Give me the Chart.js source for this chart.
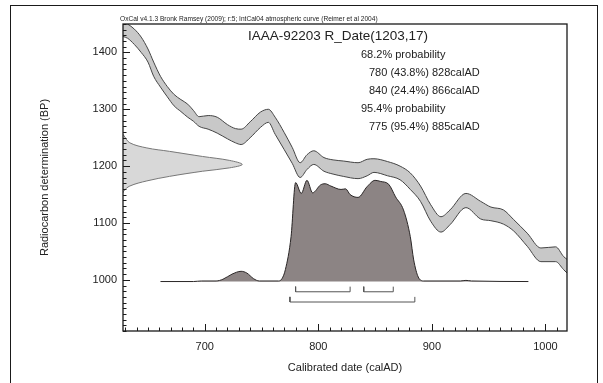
<!DOCTYPE html>
<html>
<head>
<meta charset="utf-8">
<script src="https://cdn.jsdelivr.net/npm/chart.js@4.4.0/dist/chart.umd.min.js"></script>
<style>
  html, body { margin: 0; padding: 0; background: #fff; }
  #wrap { position: relative; width: 603px; height: 383px; }
</style>
</head>
<body>
<div id="wrap"><canvas id="myChart"></canvas></div>
<script>
// tick labels
const xTicks = [700, 800, 900, 1000];
const yTicks = [1000, 1100, 1200, 1300, 1400];

// IntCal04 band (calAD vs BP), upper and lower edge
const curveYears = [628, 632, 638, 644, 650, 655, 661, 667, 673, 679, 685, 690, 695, 703, 711, 720, 727, 732, 740, 749, 756, 762, 770, 777, 784, 790, 796, 805, 813, 822, 835, 843, 849, 861, 872, 881, 890, 899, 908, 916, 930, 943, 952, 963, 972, 984, 996, 1009, 1016, 1019];
const curveUpper = [1454, 1450, 1441, 1427, 1406, 1383, 1358, 1340, 1326, 1317, 1309, 1298, 1287, 1289, 1286, 1273, 1266, 1265, 1278, 1295, 1300, 1286, 1259, 1233, 1206, 1220, 1227, 1215, 1211, 1209, 1206, 1212, 1213, 1208, 1200, 1188, 1165, 1132, 1111, 1123, 1152, 1138, 1128, 1123, 1106, 1082, 1056, 1058, 1041, 1036];
const curveLower = [1428, 1425, 1414, 1400, 1383, 1358, 1339, 1322, 1306, 1296, 1286, 1279, 1270, 1265, 1258, 1248, 1241, 1238, 1250, 1268, 1277, 1256, 1229, 1205, 1180, 1194, 1203, 1191, 1186, 1182, 1178, 1183, 1189, 1183, 1176, 1159, 1138, 1103, 1084, 1097, 1127, 1107, 1104, 1098, 1086, 1059, 1032, 1032, 1018, 1012];

// calibrated probability distribution, drawn on the BP axis
const probYears = [661, 690, 697, 710, 716, 724, 732, 737, 743, 748, 765, 768, 771, 776, 780, 785, 790, 795, 802, 806, 811, 820, 824, 828, 835, 843, 850, 855, 862, 868, 875, 881, 884, 888, 893, 925, 930, 935, 985];
const probValues = [997, 997, 998, 998, 1001, 1010, 1015, 1012, 1002, 998, 998, 1002, 1018, 1076, 1171, 1152, 1175, 1153, 1167, 1169, 1165, 1159, 1160, 1150, 1145, 1164, 1175, 1173, 1168, 1146, 1123, 1076, 1035, 1005, 998, 998, 999, 998, 997];
const probBase = 997;

// radiocarbon measurement 1203 +/- 17 BP
const measBP = [1256, 1253, 1241, 1232, 1226, 1217, 1210, 1203, 1197, 1191, 1182, 1174, 1165, 1156, 1153];
const measYears = [628, 629, 634, 649, 669, 698, 722, 733, 722, 698, 669, 649, 634, 628.5, 628];

// calibrated ranges
const ranges68 = [[780, 828], [840, 866]];
const ranges95 = [[775, 885]];

const headerText = "OxCal v4.1.3 Bronk Ramsey (2009); r:5; IntCal04 atmospheric curve (Reimer et al 2004)";
const titleText = "IAAA-92203 R_Date(1203,17)";
const summaryLines = [
  "68.2% probability",
  "780 (43.8%) 828calAD",
  "840 (24.4%) 866calAD",
  "95.4% probability",
  "775 (95.4%) 885calAD"
];

const FONT = '"Liberation Sans", Arial, Helvetica, sans-serif';
const row68 = [988, 979];
const row95 = [970, 961];

const toPoints = (xs, ys) => xs.map((x, i) => ({ x: x, y: ys[i] }));

const bracket = (r, level) => [
  { x: r[0], y: level[0] }, { x: r[0], y: level[1] },
  { x: r[1], y: level[1] }, { x: r[1], y: level[0] }
];

const bracketSets = ranges68.map(r => bracket(r, row68))
  .concat(ranges95.map(r => bracket(r, row95)))
  .map(pts => ({
    data: pts,
    borderColor: "#555",
    borderWidth: 1,
    fill: false,
    pointRadius: 0,
    tension: 0
  }));

const decorations = {
  id: "decorations",
  afterDraw(chart) {
    const { ctx, chartArea: a, scales: { x, y } } = chart;
    ctx.save();
    ctx.strokeStyle = "#1a1a1a";
    ctx.lineWidth = 1;
    // outer frame and plot box
    ctx.strokeRect(10.5, 5.5, 587, 400);
    ctx.lineWidth = 1.3;
    ctx.strokeRect(a.left, a.top, a.right - a.left, a.bottom - a.top);

    // inward ticks
    ctx.lineWidth = 1;
    ctx.beginPath();
    for (let v = 630; v <= x.max; v += 10) {
      const px = Math.round(x.getPixelForValue(v)) + 0.5;
      const len = v % 100 === 0 ? 7 : 3.5;
      ctx.moveTo(px, a.bottom);
      ctx.lineTo(px, a.bottom - len);
    }
    for (let v = 910; v <= y.max; v += 10) {
      const py = Math.round(y.getPixelForValue(v)) + 0.5;
      const len = v % 100 === 0 ? 7 : 3.5;
      ctx.moveTo(a.left, py);
      ctx.lineTo(a.left + len, py);
    }
    ctx.stroke();

    ctx.fillStyle = "#222";
    ctx.textBaseline = "alphabetic";
    ctx.textAlign = "left";
    ctx.font = "6.6px " + FONT;
    ctx.fillText(headerText, 120, 21);

    ctx.textBaseline = "middle";
    ctx.font = "13.5px " + FONT;
    ctx.fillText(titleText, 248, 36);

    ctx.font = "11px " + FONT;
    summaryLines.forEach((t, i) => {
      const indent = t.indexOf("probability") >= 0 ? 361 : 369;
      ctx.fillText(t, indent, 54.5 + i * 18);
    });

    // axis titles
    ctx.textAlign = "center";
    ctx.fillText("Calibrated date (calAD)", (a.left + a.right) / 2, 368);
    ctx.save();
    ctx.translate(45, (a.top + a.bottom) / 2);
    ctx.rotate(-Math.PI / 2);
    ctx.fillText("Radiocarbon determination (BP)", 0, 0);
    ctx.restore();
    ctx.restore();
  }
};

new Chart(document.getElementById("myChart"), {
  type: "line",
  data: {
    datasets: [
      ...bracketSets,
      {
        data: toPoints(probYears, probValues),
        borderColor: "#2a2626",
        borderWidth: 1,
        backgroundColor: "rgb(140,132,132)",
        fill: { value: probBase },
        pointRadius: 0,
        cubicInterpolationMode: "monotone"
      },
      {
        data: toPoints(measYears, measBP),
        borderColor: "#777",
        borderWidth: 1,
        backgroundColor: "rgb(216,216,216)",
        fill: "shape",
        pointRadius: 0,
        tension: 0.35
      },
      {
        data: toPoints(curveYears, curveUpper),
        borderColor: "#444",
        borderWidth: 1,
        fill: false,
        pointRadius: 0,
        cubicInterpolationMode: "monotone"
      },
      {
        data: toPoints(curveYears, curveLower),
        borderColor: "#444",
        borderWidth: 1,
        backgroundColor: "rgb(200,200,200)",
        fill: "-1",
        pointRadius: 0,
        cubicInterpolationMode: "monotone"
      }
    ]
  },
  options: {
    animation: false,
    responsive: true,
    maintainAspectRatio: false,
    layout: { padding: { left: 0, top: 24, right: 36, bottom: 0 } },
    plugins: { legend: { display: false }, tooltip: { enabled: false } },
    scales: {
      x: {
        type: "linear",
        min: 628,
        max: 1019,
        grid: { display: false, drawTicks: false },
        border: { display: false },
        afterBuildTicks: s => { s.ticks = xTicks.map(v => ({ value: v })); },
        afterFit: s => { s.height = 52; },
        ticks: { padding: 9, color: "#222", font: { family: FONT, size: 11 }, maxRotation: 0, autoSkip: false, callback: v => String(v) }
      },
      y: {
        type: "linear",
        min: 910,
        max: 1450,
        grid: { display: false, drawTicks: false },
        border: { display: false },
        afterBuildTicks: s => { s.ticks = yTicks.map(v => ({ value: v })); },
        afterFit: s => { s.width = 123; },
        ticks: { padding: 6, color: "#222", font: { family: FONT, size: 11 }, autoSkip: false, callback: v => String(v) }
      }
    }
  },
  plugins: [decorations]
});
</script>
</body>
</html>
